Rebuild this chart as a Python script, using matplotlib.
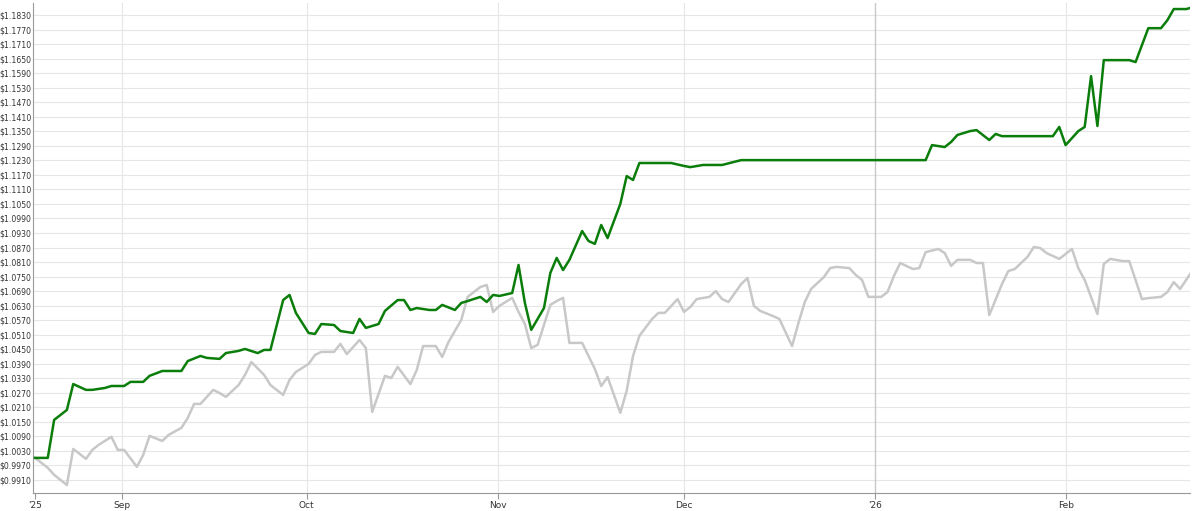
import datetime as dt

import matplotlib

matplotlib.use("Agg")
import matplotlib.pyplot as plt
import matplotlib.ticker as mticker
import numpy as np

# trading-day positions (in ~1.03 calendar days each) from 2025-08-18, and prices
green_days = [0, 2, 3, 5, 6, 8, 9, 11, 12, 14, 15, 17, 18, 20, 22, 23, 24, 26, 27, 29, 30, 32, 33, 35, 36, 37,
              39, 40, 41, 43, 44, 45, 47, 48, 50, 51, 52, 54, 55, 57, 58, 59, 60, 62, 63, 64, 66, 67, 68, 70, 71,
              72, 73, 75, 76, 77, 78, 80, 81, 82, 83, 84, 86, 87, 88, 89, 90, 92, 93, 94, 95, 97, 100, 102, 103,
              105, 108, 111, 132, 140, 141, 143, 144, 145, 147, 148, 150, 151, 152, 160, 161, 162, 164, 165, 166,
              167, 168, 172, 173, 175, 177, 178, 179, 181, 182]
green_vals = [1.0001, 1.0001, 1.0158, 1.0199, 1.0306, 1.0282, 1.0282, 1.0290, 1.0298, 1.0298, 1.0315, 1.0315,
              1.0340, 1.0360, 1.0360, 1.0360, 1.0401, 1.0422, 1.0414, 1.0410, 1.0434, 1.0443, 1.0451, 1.0434,
              1.0447, 1.0447, 1.0653, 1.0674, 1.0600, 1.0517, 1.0513, 1.0554, 1.0550, 1.0525, 1.0517, 1.0575,
              1.0538, 1.0554, 1.0608, 1.0653, 1.0653, 1.0612, 1.0620, 1.0612, 1.0612, 1.0633, 1.0612, 1.0641,
              1.0649, 1.0666, 1.0645, 1.0674, 1.0670, 1.0682, 1.0798, 1.0641, 1.0530, 1.0620, 1.0765, 1.0827,
              1.0777, 1.0819, 1.0938, 1.0897, 1.0885, 1.0963, 1.0909, 1.1050, 1.1165, 1.1149, 1.1219, 1.1219,
              1.1219, 1.1207, 1.1202, 1.1211, 1.1211, 1.1231, 1.1231, 1.1231, 1.1293, 1.1285, 1.1306, 1.1335,
              1.1351, 1.1355, 1.1314, 1.1339, 1.1330, 1.1330, 1.1368, 1.1293, 1.1351, 1.1368, 1.1578, 1.1372,
              1.1644, 1.1644, 1.1636, 1.1776, 1.1776, 1.1809, 1.1855, 1.1855, 1.1863]

gray_days = [0, 2, 3, 5, 6, 8, 9, 10, 12, 13, 14, 16, 17, 18, 20, 21, 23, 24, 25, 26, 28, 29, 30, 32, 33, 34, 36,
             37, 39, 40, 41, 43, 44, 45, 47, 48, 49, 51, 52, 53, 55, 56, 57, 59, 60, 61, 63, 64, 65, 67, 68, 70,
             71, 72, 73, 75, 76, 77, 78, 79, 81, 82, 83, 84, 86, 88, 89, 90, 92, 93, 94, 95, 97, 98, 99, 101,
             102, 103, 104, 106, 107, 108, 109, 111, 112, 113, 114, 116, 117, 119, 120, 121, 122, 124, 125, 126,
             128, 129, 130, 131, 133, 134, 135, 136, 138, 139, 140, 142, 143, 144, 145, 147, 148, 149, 150, 152,
             153, 154, 156, 157, 158, 159, 161, 163, 164, 165, 167, 168, 169, 171, 172, 174, 175, 177, 178, 179,
             180, 182]
gray_vals = [1.0001, 0.9960, 0.9931, 0.9889, 1.0038, 0.9997, 1.0034, 1.0055, 1.0088, 1.0034, 1.0034, 0.9964,
             1.0013, 1.0092, 1.0071, 1.0096, 1.0125, 1.0166, 1.0224, 1.0224, 1.0282, 1.0269, 1.0253, 1.0302,
             1.0344, 1.0397, 1.0344, 1.0302, 1.0261, 1.0323, 1.0356, 1.0389, 1.0426, 1.0439, 1.0439, 1.0472,
             1.0430, 1.0488, 1.0455, 1.0191, 1.0340, 1.0331, 1.0377, 1.0306, 1.0364, 1.0463, 1.0463, 1.0418,
             1.0480, 1.0571, 1.0666, 1.0707, 1.0715, 1.0604, 1.0629, 1.0662, 1.0604, 1.0554, 1.0455, 1.0468,
             1.0633, 1.0649, 1.0662, 1.0476, 1.0476, 1.0368, 1.0298, 1.0335, 1.0187, 1.0278, 1.0422, 1.0505,
             1.0575, 1.0600, 1.0600, 1.0657, 1.0604, 1.0624, 1.0657, 1.0666, 1.0690, 1.0657, 1.0645, 1.0719,
             1.0744, 1.0629, 1.0608, 1.0587, 1.0575, 1.0463, 1.0558, 1.0645, 1.0699, 1.0748, 1.0785, 1.0790,
             1.0785, 1.0757, 1.0736, 1.0666, 1.0666, 1.0686, 1.0752, 1.0806, 1.0781, 1.0785, 1.0851, 1.0864,
             1.0847, 1.0794, 1.0819, 1.0819, 1.0806, 1.0806, 1.0591, 1.0719, 1.0773, 1.0781, 1.0831, 1.0872,
             1.0868, 1.0847, 1.0823, 1.0864, 1.0785, 1.0736, 1.0595, 1.0802, 1.0823, 1.0814, 1.0814, 1.0657,
             1.0661, 1.0666, 1.0686, 1.0727, 1.0699, 1.0777]

tick_dates = [dt.date(2025, 8, 18), dt.date(2025, 9, 1), dt.date(2025, 10, 1), dt.date(2025, 11, 1),
              dt.date(2025, 12, 1), dt.date(2026, 1, 1), dt.date(2026, 2, 1)]
tick_labels = ["'25", "Sep", "Oct", "Nov", "Dec", "'26", "Feb"]

DAY_SCALE = 1.03
base = np.datetime64("2025-08-18T00:00")


def to_dates(days):
    minutes = np.round(np.array(days) * DAY_SCALE * 1440).astype("int64")
    return base + minutes.astype("timedelta64[m]")


fig = plt.figure(figsize=(12, 5.11), dpi=100)
ax = fig.add_axes([33 / 1200, 18 / 511, 1157 / 1200, 490 / 511])

ax.plot(to_dates(gray_days), gray_vals, color="#c8c8c8", lw=1.8, zorder=2)
ax.plot(to_dates(green_days), green_vals, color="#0a7d0a", lw=1.8, zorder=3)

yt = np.round(np.arange(0.9910, 1.1831, 0.006), 4)
ax.set_yticks(yt)
ax.yaxis.set_major_formatter(mticker.FuncFormatter(lambda v, p: f"${v:.4f}"))
ax.set_ylim(0.9856, 1.1880)
ax.set_xlim(np.datetime64("2025-08-18") - np.timedelta64(8, "h"), np.datetime64("2026-02-21"))
ax.set_xticks([np.datetime64(d) for d in tick_dates])
ax.set_xticklabels(tick_labels)

ax.grid(axis="y", color="#e6e6e6", lw=0.8)
for d in tick_dates[1:]:
    jan = d == dt.date(2026, 1, 1)
    ax.axvline(np.datetime64(d), color="#c8c8c8" if jan else "#e6e6e6", lw=1.0 if jan else 0.8, zorder=1)
ax.set_axisbelow(True)

for s in ["top", "right"]:
    ax.spines[s].set_visible(False)
ax.spines["left"].set_color("#999999")
ax.spines["bottom"].set_color("#999999")
ax.tick_params(axis="y", labelsize=5.6, length=0, colors="#333333", pad=1)
ax.tick_params(axis="x", labelsize=6.5, length=4, color="#999999", labelcolor="#333333", pad=2)

fig.savefig("out.png", dpi=100)
